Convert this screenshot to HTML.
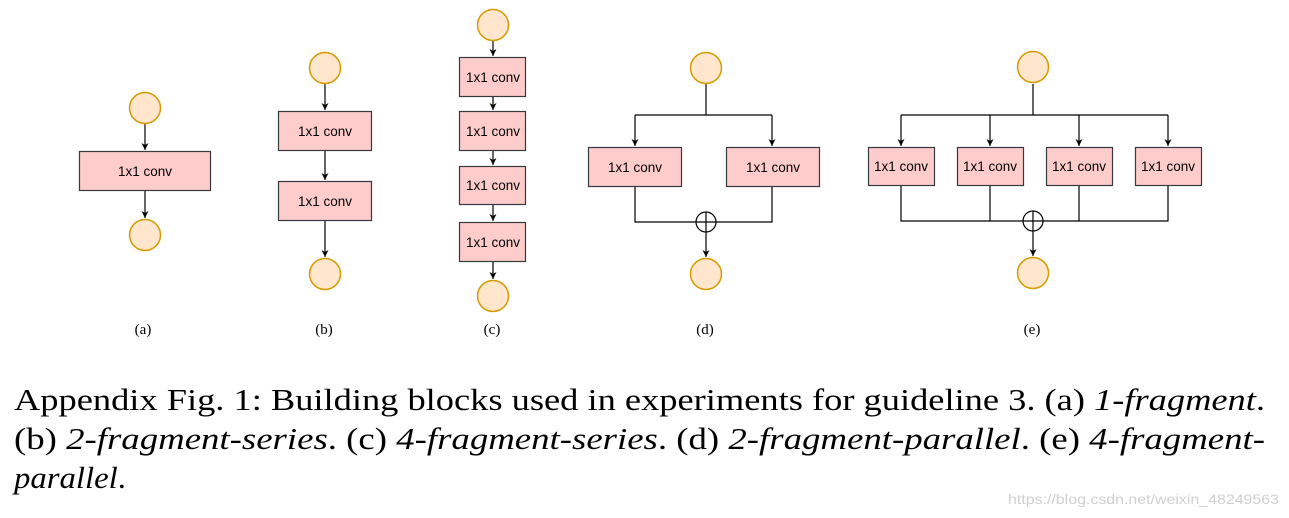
<!DOCTYPE html>
<html><head><meta charset="utf-8"><style>
html,body{margin:0;padding:0;background:#fff;}
svg{display:block;}
</style></head><body>
<svg width="1289" height="518" viewBox="0 0 1289 518" xmlns="http://www.w3.org/2000/svg">
<defs>
<marker id="ar" markerWidth="8" markerHeight="8" refX="7" refY="4" orient="auto" markerUnits="userSpaceOnUse">
<path d="M0,0.5 L7,4 L0,7.5 L2,4 Z" fill="#000"/>
</marker>
</defs>
<g stroke="#000" stroke-width="1.2" fill="none">
<line x1="145" y1="124" x2="145" y2="150" marker-end="url(#ar)"/>
<line x1="145" y1="190" x2="145" y2="218" marker-end="url(#ar)"/>
<line x1="325" y1="84" x2="325" y2="110" marker-end="url(#ar)"/>
<line x1="325" y1="150" x2="325" y2="180" marker-end="url(#ar)"/>
<line x1="325" y1="220" x2="325" y2="257" marker-end="url(#ar)"/>
<line x1="493" y1="40" x2="493" y2="56" marker-end="url(#ar)"/>
<line x1="493" y1="96" x2="493" y2="110" marker-end="url(#ar)"/>
<line x1="493" y1="150" x2="493" y2="165" marker-end="url(#ar)"/>
<line x1="493" y1="204" x2="493" y2="221" marker-end="url(#ar)"/>
<line x1="493" y1="261" x2="493" y2="279" marker-end="url(#ar)"/>
<polyline points="706,84 706,115"/>
<polyline points="635,115 772,115"/>
<line x1="635" y1="115" x2="635" y2="146" marker-end="url(#ar)"/>
<line x1="772" y1="115" x2="772" y2="146" marker-end="url(#ar)"/>
<polyline points="635,186 635,222 696,222"/>
<polyline points="772,186 772,222 716,222"/>
<line x1="706" y1="232" x2="706" y2="257" marker-end="url(#ar)"/>
<polyline points="1033,84 1033,115"/>
<polyline points="901,115 1168,115"/>
<line x1="901" y1="115" x2="901" y2="146" marker-end="url(#ar)"/>
<line x1="990" y1="115" x2="990" y2="146" marker-end="url(#ar)"/>
<line x1="1079" y1="115" x2="1079" y2="146" marker-end="url(#ar)"/>
<line x1="1168" y1="115" x2="1168" y2="146" marker-end="url(#ar)"/>
<polyline points="901,185 901,221 1023,221"/>
<polyline points="1168,185 1168,221 1043,221"/>
<line x1="990" y1="185" x2="990" y2="221"/>
<line x1="1079" y1="185" x2="1079" y2="221"/>
<line x1="1033" y1="231" x2="1033" y2="256" marker-end="url(#ar)"/>
</g>
<g fill="#ffe6cc" stroke="#d79b00" stroke-width="1.5">
<circle cx="145" cy="108" r="15.5"/>
<circle cx="145" cy="235" r="15.5"/>
<circle cx="325" cy="68" r="15.5"/>
<circle cx="325" cy="274" r="15.5"/>
<circle cx="493" cy="25" r="15.5"/>
<circle cx="493" cy="296" r="15.5"/>
<circle cx="706" cy="68" r="15.5"/>
<circle cx="706" cy="274" r="15.5"/>
<circle cx="1033" cy="67" r="15.5"/>
<circle cx="1033" cy="273" r="15.5"/>
</g>
<g fill="#fff" stroke="#000" stroke-width="1.2">
<circle cx="706" cy="222" r="10"/>
<circle cx="1033" cy="221" r="10"/>
</g>
<g stroke="#000" stroke-width="1.2">
<line x1="696" y1="222" x2="716" y2="222"/><line x1="706" y1="212" x2="706" y2="232"/>
<line x1="1023" y1="221" x2="1043" y2="221"/><line x1="1033" y1="211" x2="1033" y2="231"/>
</g>
<g fill="#ffcccc" stroke="#36393d" stroke-width="1.2">
<rect x="79.5" y="151.5" width="131" height="39"/>
<rect x="278.5" y="111.5" width="93" height="39"/>
<rect x="278.5" y="181.5" width="93" height="39"/>
<rect x="459.5" y="57.5" width="66" height="39"/>
<rect x="459.5" y="111.5" width="66" height="39"/>
<rect x="459.5" y="166.5" width="66" height="38"/>
<rect x="459.5" y="222.5" width="66" height="39"/>
<rect x="588.5" y="147.5" width="93" height="39"/>
<rect x="726.5" y="147.5" width="93" height="39"/>
<rect x="868.5" y="147.5" width="66" height="38"/>
<rect x="957.5" y="147.5" width="66" height="38"/>
<rect x="1046.5" y="147.5" width="66" height="38"/>
<rect x="1135.5" y="147.5" width="66" height="38"/>
</g>
<g font-family="Liberation Sans, Arial, sans-serif" font-size="13.5" fill="#000" text-anchor="middle">
<text x="145" y="176">1x1 conv</text>
<text x="325" y="136">1x1 conv</text>
<text x="325" y="206">1x1 conv</text>
<text x="493" y="82">1x1 conv</text>
<text x="493" y="136">1x1 conv</text>
<text x="493" y="190">1x1 conv</text>
<text x="493" y="247">1x1 conv</text>
<text x="635" y="172">1x1 conv</text>
<text x="773" y="172">1x1 conv</text>
<text x="901" y="171">1x1 conv</text>
<text x="990" y="171">1x1 conv</text>
<text x="1079" y="171">1x1 conv</text>
<text x="1168" y="171">1x1 conv</text>
</g>
<g font-family="Liberation Serif, serif" font-size="15" fill="#000" text-anchor="middle">
<text x="143" y="334">(a)</text>
<text x="324" y="334">(b)</text>
<text x="492" y="334">(c)</text>
<text x="705" y="334">(d)</text>
<text x="1032" y="334">(e)</text>
</g>
<g font-family="Liberation Serif, serif" font-size="31" fill="#000">
<text x="14" y="410" textLength="1251" lengthAdjust="spacingAndGlyphs">Appendix Fig. 1: Building blocks used in experiments for guideline 3. (a) <tspan font-style="italic">1-fragment</tspan>.</text>
<text x="14" y="449" textLength="1251" lengthAdjust="spacingAndGlyphs">(b) <tspan font-style="italic">2-fragment-series</tspan>. (c) <tspan font-style="italic">4-fragment-series</tspan>. (d) <tspan font-style="italic">2-fragment-parallel</tspan>. (e) <tspan font-style="italic">4-fragment-</tspan></text>
<text x="14" y="488" textLength="112" lengthAdjust="spacingAndGlyphs" font-style="italic">parallel<tspan font-style="normal">.</tspan></text>
</g>
<text x="1008" y="504" textLength="271" lengthAdjust="spacingAndGlyphs" font-family="Liberation Sans, Arial, sans-serif" font-size="14" fill="#d0d0d0">https://blog.csdn.net/weixin_48249563</text>
</svg>
</body></html>
